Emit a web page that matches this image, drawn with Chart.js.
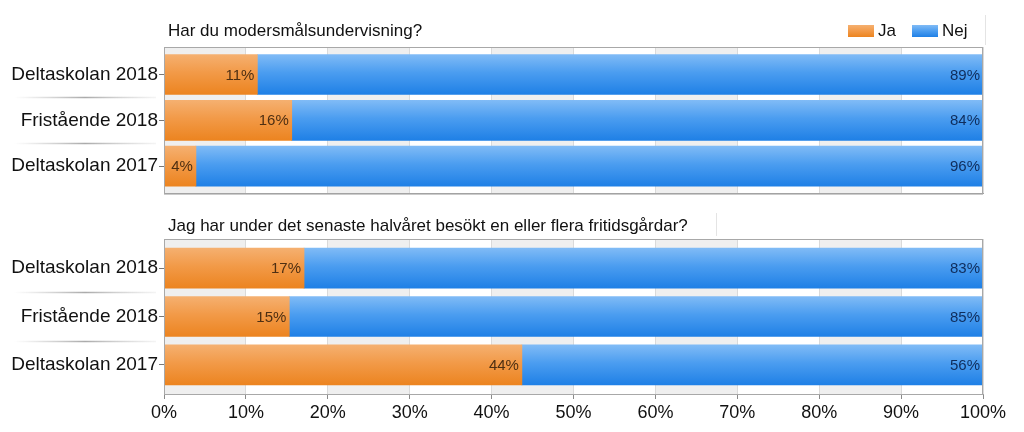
<!DOCTYPE html>
<html>
<head>
<meta charset="utf-8">
<script src="https://cdn.jsdelivr.net/npm/chart.js@4/dist/chart.umd.min.js"></script>
<style>
  html, body { margin: 0; padding: 0; background: #fff; }
  #wrap { position: relative; width: 1024px; height: 432px; overflow: hidden; }
  canvas { position: absolute; left: 0; }
  #c1 { top: 0; }
  #c2 { top: 206px; }
</style>
</head>
<body>
<div id="wrap">
  <canvas id="c1" width="1024" height="206"></canvas>
  <canvas id="c2" width="1024" height="226"></canvas>
</div>
<script>
// categories and values (percent)
const categories = ['Deltaskolan 2018', 'Fristående 2018', 'Deltaskolan 2017'];
const seriesNames = ['Ja', 'Nej'];

const title1 = 'Har du modersmålsundervisning?';
const ja1 = [11.4, 15.6, 3.9];
const nej1 = [88.6, 84.4, 96.1];

const title2 = 'Jag har under det senaste halvåret besökt en eller flera fritidsgårdar?';
const ja2 = [17.1, 15.3, 43.7];
const nej2 = [82.9, 84.7, 56.3];

const FONT = '"Liberation Sans", Arial, sans-serif';
const orangeStops = ['#f5b070', '#f29a48', '#ec8420'];
const blueStops = ['#80bbf6', '#4b9df0', '#1f80e6'];

// vertical gradient per bar, taken from the y scale
function barFill(stops) {
    return (c) => {
        const chart = c.chart;
        const y = chart.scales && chart.scales.y;
        if (!chart.chartArea || !y || !c.raw) return stops[1];
        const yc = y.getPixelForValue(c.raw.y);
        const g = chart.ctx.createLinearGradient(0, yc - 20, 0, yc + 20);
        g.addColorStop(0, stops[0]);
        g.addColorStop(0.45, stops[1]);
        g.addColorStop(1, stops[2]);
        return g;
    };
}

function toPoints(values) {
    return values.map((v, i) => ({ y: i, x: v }));
}

// background bands, box border and left separators
const decorPlugin = {
    id: 'decor',
    beforeDraw(chart) {
        const { ctx, chartArea: a, scales } = chart;
        const x = scales.x;
        ctx.save();
        ctx.fillStyle = '#efefef';
        for (let v = 0; v < 100; v += 20) {
            const x0 = x.getPixelForValue(v);
            const x1 = x.getPixelForValue(v + 10);
            ctx.fillRect(x0, a.top, x1 - x0, a.bottom - a.top);
        }
        // separators between the category labels
        const y = scales.y;
        for (let i = 0; i < categories.length - 1; i++) {
            const py = Math.round(y.getPixelForValue(i + 0.5)) + 0.5;
            const g = ctx.createLinearGradient(14, 0, 156, 0);
            g.addColorStop(0, 'rgba(190,190,190,0)');
            g.addColorStop(0.5, 'rgba(170,170,170,1)');
            g.addColorStop(1, 'rgba(200,200,200,0.2)');
            ctx.strokeStyle = g;
            ctx.lineWidth = 1.5;
            ctx.beginPath();
            ctx.moveTo(14, py);
            ctx.lineTo(156, py);
            ctx.stroke();
        }
        ctx.restore();
    },
    afterDraw(chart) {
        const { ctx, chartArea: a } = chart;
        const o = chart.options.plugins.decor;
        ctx.save();
        ctx.strokeStyle = '#a8a8a8';
        ctx.lineWidth = 1;
        ctx.strokeRect(a.left + 0.5, a.top + 0.5, a.right - a.left - 1, a.bottom - a.top);
        // title
        ctx.fillStyle = '#111';
        ctx.font = '17px ' + FONT;
        ctx.textBaseline = 'middle';
        ctx.textAlign = 'left';
        ctx.fillText(o.title, 168, o.titleY);
        // faint box edge next to the title / legend
        ctx.strokeStyle = '#e4e4e4';
        ctx.beginPath();
        ctx.moveTo(o.edgeX + 0.5, o.edgeTop);
        ctx.lineTo(o.edgeX + 0.5, o.edgeBottom);
        ctx.stroke();
        if (o.legend) {
            const items = [
                { name: seriesNames[0], stops: orangeStops, x: 848 },
                { name: seriesNames[1], stops: blueStops, x: 912 }
            ];
            items.forEach((it) => {
                const g = ctx.createLinearGradient(0, o.titleY - 6, 0, o.titleY + 6);
                g.addColorStop(0, it.stops[0]);
                g.addColorStop(0.5, it.stops[1]);
                g.addColorStop(1, it.stops[2]);
                ctx.fillStyle = g;
                ctx.fillRect(it.x, o.titleY - 6, 26, 12);
                ctx.fillStyle = '#111';
                ctx.fillText(it.name, it.x + 30, o.titleY);
            });
        }
        ctx.restore();
    },
    afterDatasetsDraw(chart) {
        const { ctx } = chart;
        ctx.save();
        ctx.font = '15px ' + FONT;
        ctx.textAlign = 'right';
        ctx.textBaseline = 'middle';
        chart.data.datasets.forEach((ds, di) => {
            const meta = chart.getDatasetMeta(di);
            meta.data.forEach((bar, i) => {
                ctx.fillStyle = di === 0 ? '#4e2f12' : '#0f2d5c';
                ctx.fillText(Math.round(ds.data[i].x) + '%', bar.x - 3, bar.y + 1);
            });
        });
        ctx.restore();
    }
};

function makeChart(id, ja, nej, opts) {
    return new Chart(document.getElementById(id), {
        type: 'bar',
        data: {
            datasets: [
                { label: seriesNames[0], data: toPoints(ja), backgroundColor: barFill(orangeStops) },
                { label: seriesNames[1], data: toPoints(nej), backgroundColor: barFill(blueStops) }
            ]
        },
        options: {
            indexAxis: 'y',
            responsive: false,
            animation: false,
            barThickness: 40,
            layout: { padding: { top: opts.padTop, right: 41, left: 0, bottom: 0 } },
            plugins: {
                legend: { display: false },
                tooltip: { enabled: false },
                decor: opts.decor
            },
            scales: {
                x: {
                    type: 'linear',
                    stacked: true,
                    min: 0,
                    max: 100,
                    ticks: {
                        display: opts.xLabels,
                        stepSize: 10,
                        padding: 3,
                        color: '#111',
                        font: { family: FONT, size: 18 },
                        callback: (v) => v + '%'
                    },
                    grid: { color: '#dadada', drawTicks: opts.xLabels, tickLength: 5, tickColor: '#8a8a8a' },
                    border: { color: '#a0a0a0' },
                    afterFit: (s) => { s.height = opts.xHeight; }
                },
                y: {
                    type: 'linear',
                    stacked: true,
                    reverse: true,
                    offset: false,
                    min: -0.6,
                    max: 2.6,
                    afterBuildTicks: (s) => { s.ticks = categories.map((c, i) => ({ value: i })); },
                    ticks: {
                        padding: 1,
                        color: '#111',
                        font: { family: FONT, size: 19 },
                        callback: (v) => categories[v]
                    },
                    grid: { offset: false, drawOnChartArea: false, tickLength: 5, tickColor: '#777' },
                    border: { color: '#8a8a8a' },
                    afterFit: (s) => { s.width = 164; }
                }
            }
        },
        plugins: [decorPlugin]
    });
}

makeChart('c1', ja1, nej1, {
    padTop: 47, xLabels: false, xHeight: 4,
    decor: { title: title1, titleY: 31, legend: true, edgeX: 985, edgeTop: 15, edgeBottom: 45 }
});

makeChart('c2', ja2, nej2, {
    padTop: 33, xLabels: true, xHeight: 38,
    decor: { title: title2, titleY: 20, legend: false, edgeX: 716, edgeTop: 7, edgeBottom: 30 }
});
</script>
</body>
</html>
